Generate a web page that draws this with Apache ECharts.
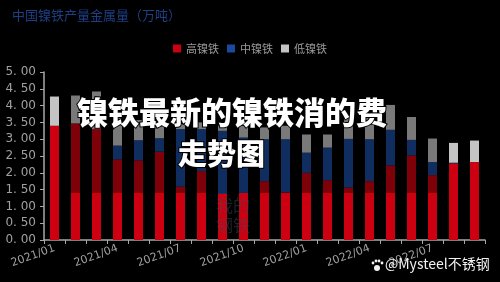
<!DOCTYPE html>
<html>
<head>
<meta charset="utf-8">
<script src="https://cdn.jsdelivr.net/npm/echarts@6/dist/echarts.min.js"></script>
<style>
  html, body { margin: 0; padding: 0; background: #000; }
  #main { width: 500px; height: 282px; }
</style>
</head>
<body>
<div id="main"></div>
<script>
  var months = ['2021/01', '2021/02', '2021/03', '2021/04', '2021/05', '2021/06', '2021/07',
    '2021/08', '2021/09', '2021/10', '2021/11', '2021/12', '2022/01', '2022/02', '2022/03',
    '2022/04', '2022/05', '2022/06', '2022/07', '2022/08', '2022/09'];
  var highNi = [3.40, 3.47, 3.30, 2.40, 2.37, 2.63, 1.59, 2.05, 1.38, 1.40, 1.75, 1.42, 2.00, 1.78, 1.56, 1.75, 2.22, 2.52, 1.93, 2.28, 2.32];
  var midNi = [0.00, 0.00, 0.00, 0.41, 0.60, 0.40, 1.71, 1.25, 1.87, 1.65, 1.25, 1.58, 0.60, 0.97, 1.45, 1.25, 1.06, 0.46, 0.39, 0.02, 0.00];
  var lowNi = [0.87, 0.83, 1.12, 0.89, 0.60, 0.50, 0.15, 0.20, 0.15, 0.35, 0.35, 0.40, 0.54, 0.39, 0.68, 0.65, 0.74, 0.68, 0.70, 0.59, 0.64];
  var yTicks = [0, 0.5, 1, 1.5, 2, 2.5, 3, 3.5, 4, 4.5, 5];

  var chart = echarts.init(document.getElementById('main'));
  var option = {
    backgroundColor: '#000',
    animation: false,
    title: {
      text: '中国镍铁产量金属量（万吨）',
      left: 7,
      top: 4,
      textStyle: { color: '#1d3f86', fontSize: 13, fontWeight: 'normal', fontFamily: 'Noto Sans CJK SC' }
    },
    legend: {
      data: ['高镍铁', '中镍铁', '低镍铁'],
      top: 38,
      left: 'center',
      itemWidth: 8,
      itemHeight: 8,
      itemGap: 8,
      icon: 'rect',
      textStyle: { color: '#9a9a9a', fontSize: 11, fontFamily: 'Noto Sans CJK SC' }
    },
    grid: { left: 44, right: 15, top: 72, bottom: 42 },
    xAxis: {
      type: 'category',
      data: months,
      axisLine: { lineStyle: { color: '#a8a8a8', width: 1.5 } },
      axisTick: { show: true, alignWithLabel: false, length: 4, interval: 0, lineStyle: { color: '#a8a8a8' } },
      axisLabel: { interval: 2, rotate: 20, color: '#a0a0a0', fontSize: 11, margin: 8, fontFamily: 'DejaVu Sans' }
    },
    yAxis: {
      type: 'value',
      min: 0,
      max: 5,
      interval: 0.5,
      splitLine: { show: false },
      axisLine: { show: true, lineStyle: { color: '#a8a8a8', width: 1.5 } },
      axisTick: { show: true, length: 4, lineStyle: { color: '#a8a8a8' } },
      axisLabel: {
        color: '#a0a0a0', fontSize: 12, margin: 8, fontFamily: 'DejaVu Sans',
        formatter: function (v) { return v.toFixed(2).replace('.', '. '); }
      }
    },
    series: [
      { name: '高镍铁', type: 'bar', stack: 'ni', barWidth: 9, data: highNi, itemStyle: { color: '#cc0010' } },
      { name: '中镍铁', type: 'bar', stack: 'ni', barWidth: 9, data: midNi, itemStyle: { color: '#1a4a9c' } },
      { name: '低镍铁', type: 'bar', stack: 'ni', barWidth: 9, data: lowNi, itemStyle: { color: '#c4c4c4' } }
    ],
    graphic: [
      {
        type: 'rect', z: 100,
        shape: { x: 63, y: 88, width: 381, height: 105 },
        style: { fill: 'rgba(0,0,0,0.38)' }
      },
      {
        type: 'text', z: 101, left: 76, top: 96,
        style: {
          text: '镍铁最新的镍铁消的费', fill: '#fff', fontSize: 31, fontWeight: 900,
          fontFamily: 'Noto Sans CJK SC', stroke: '#000', lineWidth: 2
        }
      },
      {
        type: 'text', z: 101, left: 177, top: 138,
        style: {
          text: '走势图', fill: '#fff', fontSize: 29, fontWeight: 900,
          fontFamily: 'Noto Sans CJK SC', stroke: '#000', lineWidth: 2
        }
      },
      {
        type: 'text', z: 90, left: 216, top: 196,
        style: {
          text: '我的\n钢铁', fill: 'rgba(70,70,90,0.45)', fontSize: 17, lineHeight: 20,
          fontFamily: 'Noto Sans CJK SC'
        }
      },
      {
        type: 'text', z: 102, left: 385, top: 257,
        style: { text: '@Mysteel不锈钢', fill: '#f2f2f2', fontSize: 14, fontFamily: 'Noto Sans CJK SC' }
      },
      { type: 'circle', z: 102, shape: { cx: 377, cy: 268, r: 3 }, style: { fill: '#f2f2f2' } },
      { type: 'circle', z: 102, shape: { cx: 373, cy: 263, r: 1.4 }, style: { fill: '#f2f2f2' } },
      { type: 'circle', z: 102, shape: { cx: 376, cy: 261, r: 1.4 }, style: { fill: '#f2f2f2' } },
      { type: 'circle', z: 102, shape: { cx: 379, cy: 261, r: 1.4 }, style: { fill: '#f2f2f2' } },
      { type: 'circle', z: 102, shape: { cx: 382, cy: 263, r: 1.4 }, style: { fill: '#f2f2f2' } }
    ]
  };
  chart.setOption(option);
</script>
</body>
</html>
